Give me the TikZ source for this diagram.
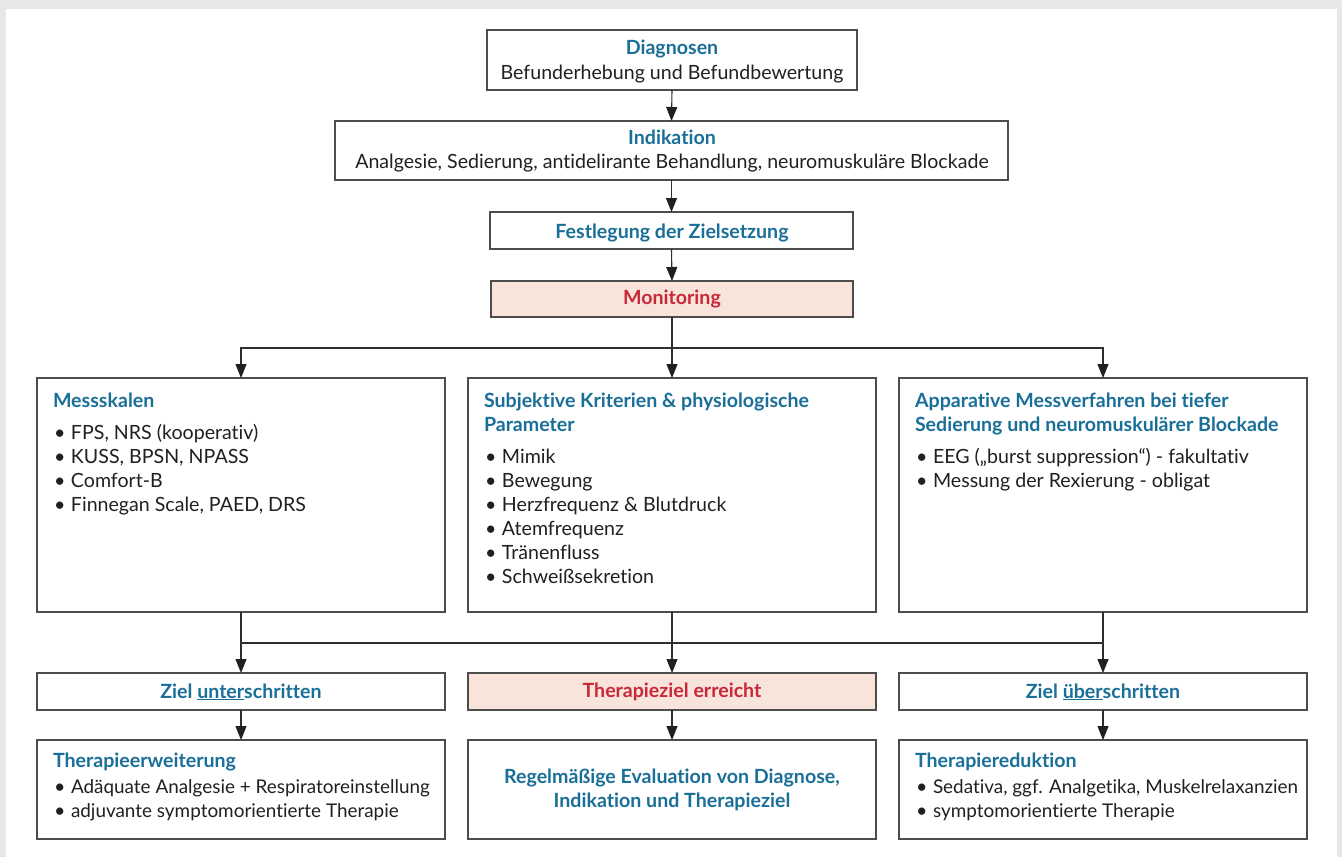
\documentclass[tikz,border=0pt]{standalone}
\usepackage{fontspec}
\setmainfont{Lato}[Ligatures=NoCommon]
\usetikzlibrary{arrows.meta}
\definecolor{blu}{HTML}{1A6F98}
\definecolor{rd}{HTML}{C8283A}
\definecolor{pk}{HTML}{F8E4DB}
\definecolor{txt}{HTML}{231F20}
\definecolor{bord}{HTML}{4D4D4D}
\definecolor{lin}{HTML}{2E2E2E}
\definecolor{bgc}{HTML}{E6E7E8}
\newcommand{\hd}[1]{\leavevmode{\bfseries\color{blu}#1}}
\newcommand{\rdh}[1]{\leavevmode{\bfseries\color{rd}#1}}
\newcommand{\itm}[1]{\leavevmode\makebox[18pt][l]{\hspace{1pt}\textbullet}#1}
\newcommand{\smitm}[1]{\leavevmode\makebox[18pt][l]{\hspace{1pt}\textbullet}{\fontsize{18.9}{24}\selectfont #1}}
\begin{document}
\begin{tikzpicture}[x=1pt,y=-1pt,
  box/.style={draw=bord, line width=1.1pt, rectangle, inner sep=0pt, outer sep=0pt},
  pinkbox/.style={box, fill=pk},
  conn/.style={draw=lin, line width=1.1pt},
  arr/.style={conn, -{Triangle[length=14pt,width=11pt,color=txt]}},
  tn/.style={inner sep=0pt, outer sep=0pt, anchor=base west, text=txt, font=\fontsize{19.6}{24}\selectfont},
  tc/.style={tn, anchor=base}]
\fill[bgc] (0,0) rectangle (1342,857);
\fill[white] (6,9) rectangle (1337,857);
\useasboundingbox (0,0) rectangle (1342,857);
% boxes
\node[box, minimum width=370pt, minimum height=60pt] (diag) at (672,60) {};
\node[box, minimum width=673pt, minimum height=59pt] (ind) at (671.5,150.5) {};
\node[box, minimum width=363pt, minimum height=37pt] (fest) at (671.5,230.5) {};
\node[pinkbox, minimum width=362pt, minimum height=36pt] (mon) at (672,299) {};
\node[box, minimum width=408pt, minimum height=234pt] (m1) at (241,495) {};
\node[box, minimum width=408pt, minimum height=234pt] (m2) at (672,495) {};
\node[box, minimum width=408pt, minimum height=234pt] (m3) at (1103,495) {};
\node[box, minimum width=408pt, minimum height=37pt] (z1) at (241,691.5) {};
\node[pinkbox, minimum width=408pt, minimum height=37pt] (z2) at (672,691.5) {};
\node[box, minimum width=408pt, minimum height=37pt] (z3) at (1103,691.5) {};
\node[box, minimum width=408pt, minimum height=99pt] (t1) at (241,789.5) {};
\node[box, minimum width=408pt, minimum height=99pt] (t2) at (672,789.5) {};
\node[box, minimum width=408pt, minimum height=99pt] (t3) at (1103,789.5) {};
% texts
\node[tc] (diagT) at (672,54) {\parbox[t]{370pt}{\centering\hd{Diagnosen}\\[1pt]Befunderhebung und Befundbewertung}};
\node[tc] (indT) at (672,144) {\parbox[t]{673pt}{\centering\hd{Indikation}\\Analgesie, Sedierung, antidelirante Behandlung, neuromuskuläre Blockade}};
\node[tc] (festT) at (672,238) {\hd{Festlegung der Zielsetzung}};
\node[tc] (monT) at (672,304) {\rdh{Monitoring}};
\node[tn] (m1T) at (53,407) {\parbox[t]{450pt}{\raggedright\hd{Messskalen}\\[8pt]\itm{FPS, NRS (kooperativ)}\\\itm{KUSS, BPSN, NPASS}\\\itm{Comfort-B}\\\itm{Finnegan Scale, PAED, DRS}}};
\node[tn] (m2T) at (484,407) {\parbox[t]{450pt}{\raggedright\hd{Subjektive Kriterien \& physiologische}\\\hd{Parameter}\\[8pt]\itm{Mimik}\\\itm{Bewegung}\\\itm{Herzfrequenz \& Blutdruck}\\\itm{Atemfrequenz}\\\itm{Tränenfluss}\\\itm{Schweißsekretion}}};
\node[tn] (m3T) at (915,407) {\parbox[t]{450pt}{\raggedright\hd{Apparative Messverfahren bei tiefer}\\\hd{Sedierung und neuromuskulärer Blockade}\\[8pt]\itm{EEG („burst suppression“) - fakultativ}\\\itm{Messung der Rexierung - obligat}}};
\node[tc] (z1T) at (241,698) {\hd{Ziel \underline{unter}schritten}};
\node[tc] (z2T) at (672,697) {\rdh{Therapieziel erreicht}};
\node[tc] (z3T) at (1103,698) {\hd{Ziel \underline{über}schritten}};
\node[tn] (t1T) at (53,767) {\parbox[t]{450pt}{\raggedright\hd{Therapieerweiterung}\\[2pt]\smitm{Adäquate Analgesie + Respiratoreinstellung}\\\smitm{adjuvante symptomorientierte Therapie}}};
\node[tc] (t2T) at (672,783) {\parbox[t]{408pt}{\centering\hd{Regelmäßige Evaluation von Diagnose,}\\\hd{Indikation und Therapieziel}}};
\node[tn] (t3T) at (915,767) {\parbox[t]{450pt}{\raggedright\hd{Therapiereduktion}\\[2pt]\smitm{Sedativa, ggf. Analgetika, Muskelrelaxanzien}\\\smitm{symptomorientierte Therapie}}};
% connectors
\coordinate (split) at (672,348);
\coordinate (join) at (672,643);
\draw[arr] (diag.south) -- (ind.north);
\draw[arr] (ind.south) -- (fest.north);
\draw[arr] (fest.south) -- (mon.north);
\draw[arr] (mon.south) -- (m2.north);
\draw[arr] (split) -| (m1.north);
\draw[arr] (split) -| (m3.north);
\draw[conn] (m1.south |- join) -- (m3.south |- join);
\draw[arr] (m1.south) -- (z1.north);
\draw[arr] (m2.south) -- (z2.north);
\draw[arr] (m3.south) -- (z3.north);
\draw[arr] (z1.south) -- (t1.north);
\draw[arr] (z2.south) -- (t2.north);
\draw[arr] (z3.south) -- (t3.north);
\end{tikzpicture}
\end{document}
